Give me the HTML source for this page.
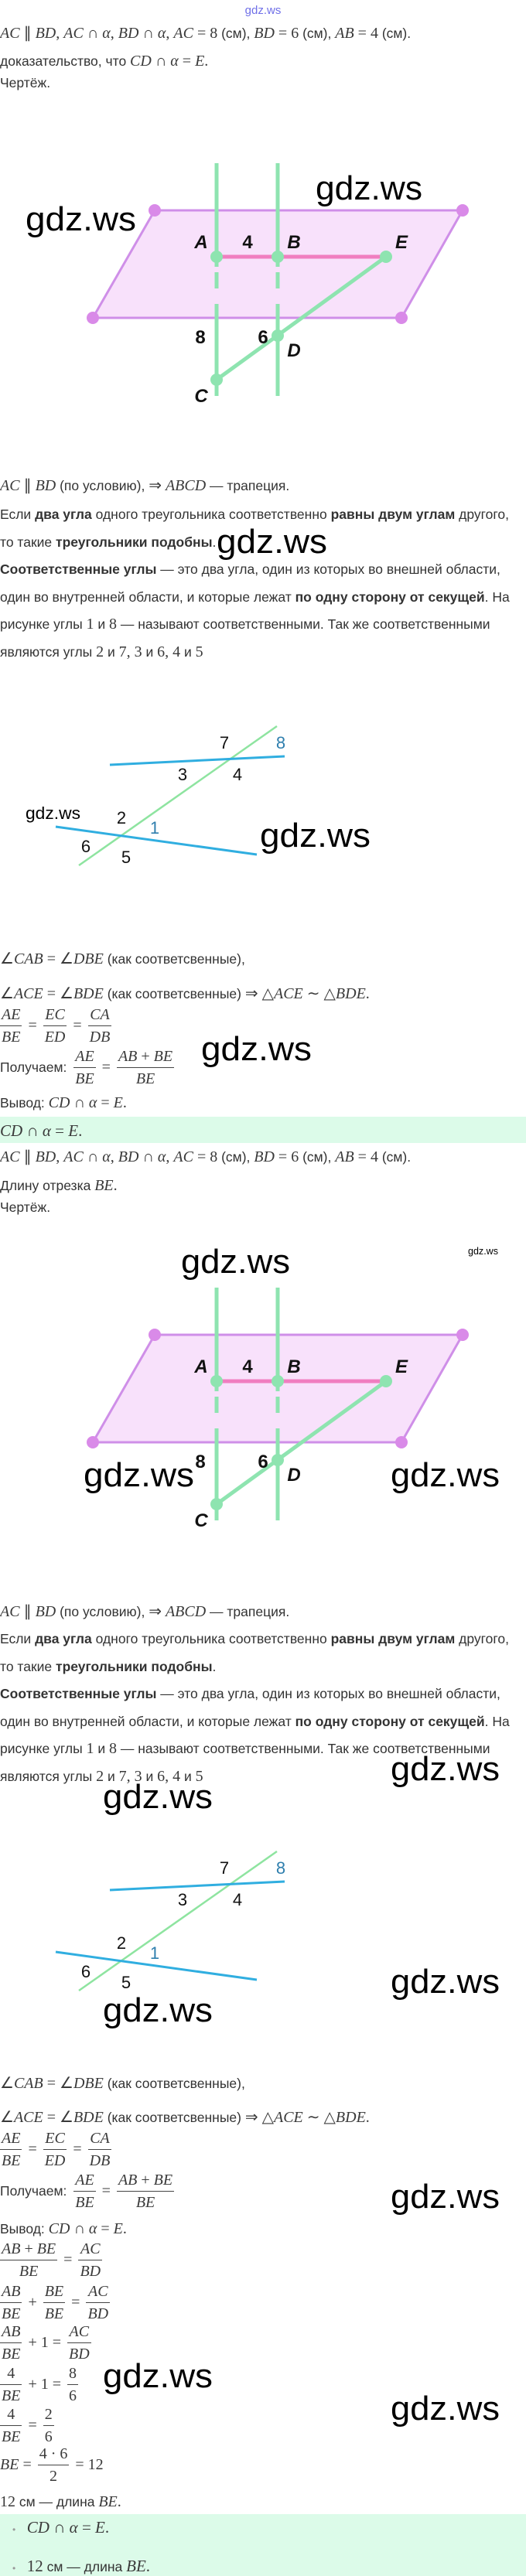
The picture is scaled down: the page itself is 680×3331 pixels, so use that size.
<!DOCTYPE html>
<html><head><meta charset="utf-8"><style>
body{margin:0;background:#fff;}
#p{position:relative;width:680px;height:3331px;overflow:hidden;font-family:"Liberation Sans",sans-serif;font-size:17.5px;color:#333;}
.l{position:absolute;left:0;white-space:nowrap;line-height:24px;}
.m{font-family:"Liberation Serif",serif;font-size:20px;color:#3a3a3a;}
.m i{font-style:italic;}
.r{position:absolute;left:0;display:flex;align-items:center;white-space:nowrap;}
.f{display:inline-flex;flex-direction:column;text-align:center;font-family:"Liberation Serif",serif;font-size:20px;color:#3a3a3a;margin:0 4px;}
.f>span{line-height:28px;padding:0 2px;}
.f>span:first-child{border-bottom:1.3px solid #444;}
.o{font-family:"Liberation Serif",serif;font-size:20px;color:#3a3a3a;margin:0 4px;}
.band{position:absolute;left:0;width:680px;background:#dcfbe9;}
svg{position:absolute;left:0;top:0;}
</style></head><body><div id="p">
<div class="band" style="top:1444px;height:34px"></div>
<div class="band" style="top:3251px;height:80px"></div>
<svg width="680" height="3331" viewBox="0 0 680 3331">
<defs></defs>
<g id="d1">
<polygon points="200,272 598,272 519,411 120,411" fill="#f8e1fb" stroke="#cf8fe8" stroke-width="3"/>
<circle cx="200" cy="272" r="8" fill="#d98ae8"/><circle cx="598" cy="272" r="8" fill="#d98ae8"/><circle cx="519" cy="411" r="8" fill="#d98ae8"/><circle cx="120" cy="411" r="8" fill="#d98ae8"/>
<g stroke="#8ee4b0" stroke-width="5">
<line x1="280" y1="211" x2="280" y2="345"/><line x1="280" y1="352" x2="280" y2="373"/><line x1="280" y1="393" x2="280" y2="512"/>
<line x1="359" y1="211" x2="359" y2="345"/><line x1="359" y1="352" x2="359" y2="373"/><line x1="359" y1="393" x2="359" y2="512"/>
<line x1="280" y1="491" x2="499" y2="332"/>
</g>
<line x1="280" y1="332" x2="499" y2="332" stroke="#f07ec0" stroke-width="5"/>
<g fill="#8ee4b0"><circle cx="280" cy="332" r="8"/><circle cx="359" cy="332" r="8"/><circle cx="499" cy="332" r="8"/><circle cx="359" cy="434" r="8"/><circle cx="280" cy="491" r="8"/></g>
<g font-family="Liberation Sans,sans-serif" font-weight="bold" font-size="24" fill="#111" text-anchor="middle">
<text x="260" y="321" font-style="italic">A</text><text x="320" y="321">4</text><text x="380" y="321" font-style="italic">B</text><text x="519" y="321" font-style="italic">E</text>
<text x="259" y="444">8</text><text x="340" y="444">6</text><text x="380" y="461" font-style="italic">D</text><text x="260" y="520" font-style="italic">C</text>
</g>
</g>
<g transform="translate(0,1454)">
<polygon points="200,272 598,272 519,411 120,411" fill="#f8e1fb" stroke="#cf8fe8" stroke-width="3"/>
<circle cx="200" cy="272" r="8" fill="#d98ae8"/><circle cx="598" cy="272" r="8" fill="#d98ae8"/><circle cx="519" cy="411" r="8" fill="#d98ae8"/><circle cx="120" cy="411" r="8" fill="#d98ae8"/>
<g stroke="#8ee4b0" stroke-width="5">
<line x1="280" y1="211" x2="280" y2="345"/><line x1="280" y1="352" x2="280" y2="373"/><line x1="280" y1="393" x2="280" y2="512"/>
<line x1="359" y1="211" x2="359" y2="345"/><line x1="359" y1="352" x2="359" y2="373"/><line x1="359" y1="393" x2="359" y2="512"/>
<line x1="280" y1="491" x2="499" y2="332"/>
</g>
<line x1="280" y1="332" x2="499" y2="332" stroke="#f07ec0" stroke-width="5"/>
<g fill="#8ee4b0"><circle cx="280" cy="332" r="8"/><circle cx="359" cy="332" r="8"/><circle cx="499" cy="332" r="8"/><circle cx="359" cy="434" r="8"/><circle cx="280" cy="491" r="8"/></g>
<g font-family="Liberation Sans,sans-serif" font-weight="bold" font-size="24" fill="#111" text-anchor="middle">
<text x="260" y="321" font-style="italic">A</text><text x="320" y="321">4</text><text x="380" y="321" font-style="italic">B</text><text x="519" y="321" font-style="italic">E</text>
<text x="259" y="444">8</text><text x="340" y="444">6</text><text x="380" y="461" font-style="italic">D</text><text x="260" y="520" font-style="italic">C</text>
</g>
</g>
<g>
<line x1="102" y1="1119" x2="358" y2="939" stroke="#8ee4a0" stroke-width="2.5"/>
<line x1="142" y1="989" x2="368" y2="978" stroke="#30aee0" stroke-width="3"/>
<line x1="72" y1="1069" x2="332" y2="1105" stroke="#30aee0" stroke-width="3"/>
<g font-family="Liberation Sans,sans-serif" font-size="22" fill="#111" text-anchor="middle">
<text x="290" y="968">7</text><text x="363" y="968" fill="#2f7fae">8</text><text x="236" y="1009">3</text><text x="307" y="1009">4</text>
<text x="157" y="1065">2</text><text x="200" y="1078" fill="#2f7fae">1</text><text x="111" y="1102">6</text><text x="163" y="1116">5</text>
</g>
</g>
<g transform="translate(0,1455)">
<line x1="102" y1="1119" x2="358" y2="939" stroke="#8ee4a0" stroke-width="2.5"/>
<line x1="142" y1="989" x2="368" y2="978" stroke="#30aee0" stroke-width="3"/>
<line x1="72" y1="1069" x2="332" y2="1105" stroke="#30aee0" stroke-width="3"/>
<g font-family="Liberation Sans,sans-serif" font-size="22" fill="#111" text-anchor="middle">
<text x="290" y="968">7</text><text x="363" y="968" fill="#2f7fae">8</text><text x="236" y="1009">3</text><text x="307" y="1009">4</text>
<text x="157" y="1065">2</text><text x="200" y="1078" fill="#2f7fae">1</text><text x="111" y="1102">6</text><text x="163" y="1116">5</text>
</g>
</g>
<g font-family="Liberation Sans,sans-serif" fill="#000" font-size="44" lengthAdjust="spacingAndGlyphs">
<text x="408" y="258" textLength="138" lengthAdjust="spacingAndGlyphs">gdz.ws</text>
<text x="33" y="298" textLength="143" lengthAdjust="spacingAndGlyphs">gdz.ws</text>
<text x="280" y="715" textLength="143" lengthAdjust="spacingAndGlyphs">gdz.ws</text>
<text x="33" y="1059" font-size="22" textLength="71" lengthAdjust="spacingAndGlyphs">gdz.ws</text>
<text x="336" y="1095" textLength="143" lengthAdjust="spacingAndGlyphs">gdz.ws</text>
<text x="260" y="1371" textLength="143" lengthAdjust="spacingAndGlyphs">gdz.ws</text>
<text x="234" y="1646" textLength="141" lengthAdjust="spacingAndGlyphs">gdz.ws</text>
<text x="605" y="1622" font-size="13" textLength="39" lengthAdjust="spacingAndGlyphs">gdz.ws</text>
<text x="108" y="1922" textLength="143" lengthAdjust="spacingAndGlyphs">gdz.ws</text>
<text x="505" y="1922" textLength="141" lengthAdjust="spacingAndGlyphs">gdz.ws</text>
<text x="505" y="2302" textLength="141" lengthAdjust="spacingAndGlyphs">gdz.ws</text>
<text x="133" y="2338" textLength="142" lengthAdjust="spacingAndGlyphs">gdz.ws</text>
<text x="505" y="2577" textLength="141" lengthAdjust="spacingAndGlyphs">gdz.ws</text>
<text x="133" y="2614" textLength="142" lengthAdjust="spacingAndGlyphs">gdz.ws</text>
<text x="505" y="2855" textLength="141" lengthAdjust="spacingAndGlyphs">gdz.ws</text>
<text x="133" y="3087" textLength="142" lengthAdjust="spacingAndGlyphs">gdz.ws</text>
<text x="505" y="3129" textLength="141" lengthAdjust="spacingAndGlyphs">gdz.ws</text>
</g>
<text x="340" y="18" text-anchor="middle" font-family="Liberation Sans,sans-serif" font-size="15" fill="#7070e8">gdz.ws</text>
</svg>

<div class="l" style="top:31px"><span class="m"><i>AC</i> ∥ <i>BD</i>, <i>AC</i> ∩ <i>α</i>, <i>BD</i> ∩ <i>α</i>, <i>AC</i> = 8</span> (см), <span class="m"><i>BD</i> = 6</span> (см), <span class="m"><i>AB</i> = 4</span> (см).</div>
<div class="l" style="top:67px">доказательство, что <span class="m"><i>CD</i> ∩ <i>α</i> = <i>E</i>.</span></div>
<div class="l" style="top:95px">Чертёж.</div>

<div class="l" style="top:616px"><span class="m"><i>AC</i> ∥ <i>BD</i></span> (по условию), <span class="m">⇒ <i>ABCD</i></span> — трапеция.</div>
<div class="l" style="top:653px">Если <b>два угла</b> одного треугольника соответственно <b>равны двум углам</b> другого,</div>
<div class="l" style="top:689px">то такие <b>треугольники подобны</b>.</div>
<div class="l" style="top:724px"><b>Соответственные углы</b> — это два угла, один из которых во внешней области,</div>
<div class="l" style="top:760px">один во внутренней области, и которые лежат <b>по одну сторону от секущей</b>. На</div>
<div class="l" style="top:795px">рисунке углы <span class="m">1</span> и <span class="m">8</span> — называют соответственными. Так же соответственными</div>
<div class="l" style="top:831px">являются углы <span class="m">2</span> и <span class="m">7, 3</span> и <span class="m">6, 4</span> и <span class="m">5</span></div>

<div class="l" style="top:1228px"><span class="m">∠<i>CAB</i> = ∠<i>DBE</i></span> (как соответсвенные),</div>
<div class="l" style="top:1273px"><span class="m">∠<i>ACE</i> = ∠<i>BDE</i></span> (как соответсвенные) <span class="m">⇒ △<i>ACE</i> ∼ △<i>BDE</i>.</span></div>
<div class="r" style="top:1298px"><span class="f" style="margin-left:0"><span><i>AE</i></span><span><i>BE</i></span></span><span class="o">=</span><span class="f"><span><i>EC</i></span><span><i>ED</i></span></span><span class="o">=</span><span class="f"><span><i>CA</i></span><span><i>DB</i></span></span></div>
<div class="r" style="top:1352px">Получаем:&nbsp;<span class="f"><span><i>AE</i></span><span><i>BE</i></span></span><span class="o">=</span><span class="f"><span><i>AB</i> + <i>BE</i></span><span><i>BE</i></span></span></div>
<div class="l" style="top:1414px">Вывод: <span class="m"><i>CD</i> ∩ <i>α</i> = <i>E</i>.</span></div>
<div class="l" style="top:1450px"><span class="m" style="font-size:21px"><i>CD</i> ∩ <i>α</i> = <i>E</i>.</span></div>
<div class="l" style="top:1484px"><span class="m"><i>AC</i> ∥ <i>BD</i>, <i>AC</i> ∩ <i>α</i>, <i>BD</i> ∩ <i>α</i>, <i>AC</i> = 8</span> (см), <span class="m"><i>BD</i> = 6</span> (см), <span class="m"><i>AB</i> = 4</span> (см).</div>
<div class="l" style="top:1521px">Длину отрезка <span class="m"><i>BE</i>.</span></div>
<div class="l" style="top:1549px">Чертёж.</div>

<div class="l" style="top:2072px"><span class="m"><i>AC</i> ∥ <i>BD</i></span> (по условию), <span class="m">⇒ <i>ABCD</i></span> — трапеция.</div>
<div class="l" style="top:2107px">Если <b>два угла</b> одного треугольника соответственно <b>равны двум углам</b> другого,</div>
<div class="l" style="top:2143px">то такие <b>треугольники подобны</b>.</div>
<div class="l" style="top:2178px"><b>Соответственные углы</b> — это два угла, один из которых во внешней области,</div>
<div class="l" style="top:2214px">один во внутренней области, и которые лежат <b>по одну сторону от секущей</b>. На</div>
<div class="l" style="top:2249px">рисунке углы <span class="m">1</span> и <span class="m">8</span> — называют соответственными. Так же соответственными</div>
<div class="l" style="top:2285px">являются углы <span class="m">2</span> и <span class="m">7, 3</span> и <span class="m">6, 4</span> и <span class="m">5</span></div>

<div class="l" style="top:2682px"><span class="m">∠<i>CAB</i> = ∠<i>DBE</i></span> (как соответсвенные),</div>
<div class="l" style="top:2726px"><span class="m">∠<i>ACE</i> = ∠<i>BDE</i></span> (как соответсвенные) <span class="m">⇒ △<i>ACE</i> ∼ △<i>BDE</i>.</span></div>
<div class="r" style="top:2751px"><span class="f" style="margin-left:0"><span><i>AE</i></span><span><i>BE</i></span></span><span class="o">=</span><span class="f"><span><i>EC</i></span><span><i>ED</i></span></span><span class="o">=</span><span class="f"><span><i>CA</i></span><span><i>DB</i></span></span></div>
<div class="r" style="top:2805px">Получаем:&nbsp;<span class="f"><span><i>AE</i></span><span><i>BE</i></span></span><span class="o">=</span><span class="f"><span><i>AB</i> + <i>BE</i></span><span><i>BE</i></span></span></div>
<div class="l" style="top:2870px">Вывод: <span class="m"><i>CD</i> ∩ <i>α</i> = <i>E</i>.</span></div>
<div class="r" style="top:2894px"><span class="f" style="margin-left:0"><span><i>AB</i> + <i>BE</i></span><span><i>BE</i></span></span><span class="o">=</span><span class="f"><span><i>AC</i></span><span><i>BD</i></span></span></div>
<div class="r" style="top:2949px"><span class="f" style="margin-left:0"><span><i>AB</i></span><span><i>BE</i></span></span><span class="o">+</span><span class="f"><span><i>BE</i></span><span><i>BE</i></span></span><span class="o">=</span><span class="f"><span><i>AC</i></span><span><i>BD</i></span></span></div>
<div class="r" style="top:3001px"><span class="f" style="margin-left:0"><span><i>AB</i></span><span><i>BE</i></span></span><span class="o">+ 1 =</span><span class="f"><span><i>AC</i></span><span><i>BD</i></span></span></div>
<div class="r" style="top:3055px"><span class="f" style="margin-left:0"><span>4</span><span><i>BE</i></span></span><span class="o">+ 1 =</span><span class="f"><span>8</span><span>6</span></span></div>
<div class="r" style="top:3108px"><span class="f" style="margin-left:0"><span>4</span><span><i>BE</i></span></span><span class="o">=</span><span class="f"><span>2</span><span>6</span></span></div>
<div class="r" style="top:3159px"><span class="o" style="margin-left:0"><i>BE</i> =</span><span class="f"><span>4 · 6</span><span>2</span></span><span class="o">= 12</span></div>
<div class="l" style="top:3223px"><span class="m">12</span> см — длина <span class="m"><i>BE</i>.</span></div>
<div class="l" style="top:3256px;left:16px"><span style="color:#999;font-size:12px">•</span>&nbsp;&nbsp;&nbsp;<span class="m" style="font-size:21px"><i>CD</i> ∩ <i>α</i> = <i>E</i>.</span></div>
<div class="l" style="top:3306px;left:16px"><span style="color:#999;font-size:12px">•</span>&nbsp;&nbsp;&nbsp;<span class="m" style="font-size:21px">12</span> см — длина <span class="m" style="font-size:21px"><i>BE</i>.</span></div>
</div></body></html>
